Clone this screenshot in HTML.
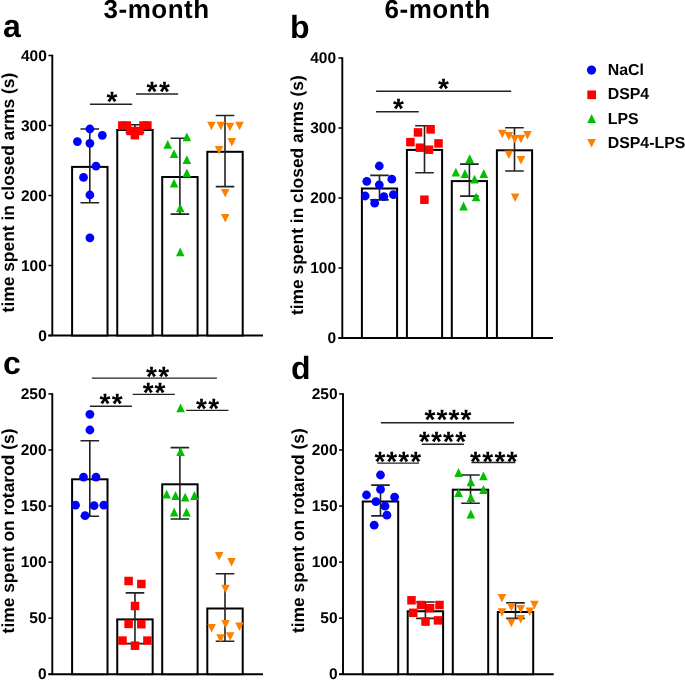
<!DOCTYPE html>
<html><head><meta charset="utf-8"><style>
html,body{margin:0;padding:0;background:#fff;}
body{width:685px;height:680px;overflow:hidden;}
svg{display:block;will-change:transform;}
text{font-family:"Liberation Sans",sans-serif;font-weight:bold;text-rendering:geometricPrecision;}
</style></head><body>
<svg width="685" height="680" viewBox="0 0 685 680">
<rect width="685" height="680" fill="#fff"/>
<text x="156.6" y="18.4" text-anchor="middle" font-size="26" letter-spacing="0.5" font-family="Liberation Sans, sans-serif" font-weight="bold">3-month</text>
<text x="437.6" y="18.4" text-anchor="middle" font-size="26" letter-spacing="0.5" font-family="Liberation Sans, sans-serif" font-weight="bold">6-month</text>
<text x="3" y="37" font-size="32" font-family="Liberation Sans, sans-serif" font-weight="bold">a</text>
<text x="290" y="37.8" font-size="32" font-family="Liberation Sans, sans-serif" font-weight="bold">b</text>
<text x="3" y="374" font-size="32" font-family="Liberation Sans, sans-serif" font-weight="bold">c</text>
<text x="291" y="378.8" font-size="32" font-family="Liberation Sans, sans-serif" font-weight="bold">d</text>
<g stroke="#000" fill="none">
<path d="M52.3 54.8 V335.5 M48.4 335.5 H263" stroke-width="1.9"/>
<path d="M48.4 335.5 H52.3" stroke-width="1.5"/>
<path d="M48.4 265.5 H52.3" stroke-width="1.5"/>
<path d="M48.4 195.5 H52.3" stroke-width="1.5"/>
<path d="M48.4 125.5 H52.3" stroke-width="1.5"/>
<path d="M48.4 55.5 H52.3" stroke-width="1.5"/>
</g>
<text x="46.800000000000004" y="340.70" text-anchor="end" font-size="15.5" font-family="Liberation Sans, sans-serif" font-weight="bold">0</text>
<text x="46.800000000000004" y="270.70" text-anchor="end" font-size="15.5" font-family="Liberation Sans, sans-serif" font-weight="bold">100</text>
<text x="46.800000000000004" y="200.70" text-anchor="end" font-size="15.5" font-family="Liberation Sans, sans-serif" font-weight="bold">200</text>
<text x="46.800000000000004" y="130.70" text-anchor="end" font-size="15.5" font-family="Liberation Sans, sans-serif" font-weight="bold">300</text>
<text x="46.800000000000004" y="60.70" text-anchor="end" font-size="15.5" font-family="Liberation Sans, sans-serif" font-weight="bold">400</text>
<text transform="translate(13.6,312.4) rotate(-90)" font-size="17.4" font-family="Liberation Sans, sans-serif" font-weight="bold">time spent in closed arms (s)</text>
<rect x="72.10" y="166.90" width="35.40" height="168.60" fill="#fff" stroke="#000" stroke-width="2"/>
<rect x="117.25" y="130.00" width="35.40" height="205.50" fill="#fff" stroke="#000" stroke-width="2"/>
<rect x="162.20" y="177.00" width="35.40" height="158.50" fill="#fff" stroke="#000" stroke-width="2"/>
<rect x="207.30" y="151.80" width="35.40" height="183.70" fill="#fff" stroke="#000" stroke-width="2"/>
<path d="M89.80 129.00V202.80M80.50 129.00H99.10M80.50 202.80H99.10" stroke="#222" stroke-width="1.6" fill="none"/>
<path d="M134.95 124.70V132.60M125.65 124.70H144.25M125.65 132.60H144.25" stroke="#222" stroke-width="1.6" fill="none"/>
<path d="M179.90 138.20V214.10M170.60 138.20H189.20M170.60 214.10H189.20" stroke="#222" stroke-width="1.6" fill="none"/>
<path d="M225.00 115.50V186.60M215.70 115.50H234.30M215.70 186.60H234.30" stroke="#222" stroke-width="1.6" fill="none"/>
<circle cx="89.90" cy="129.00" r="4.4" fill="#0000ff"/>
<circle cx="102.30" cy="135.30" r="4.4" fill="#0000ff"/>
<circle cx="77.40" cy="141.60" r="4.4" fill="#0000ff"/>
<circle cx="89.90" cy="143.30" r="4.4" fill="#0000ff"/>
<circle cx="96.00" cy="166.10" r="4.4" fill="#0000ff"/>
<circle cx="83.50" cy="177.40" r="4.4" fill="#0000ff"/>
<circle cx="89.90" cy="195.00" r="4.4" fill="#0000ff"/>
<circle cx="89.90" cy="237.80" r="4.4" fill="#0000ff"/>
<rect x="118.05" y="121.25" width="8.5" height="8.5" fill="#ff0000"/>
<rect x="122.55" y="121.25" width="8.5" height="8.5" fill="#ff0000"/>
<rect x="139.25" y="121.25" width="8.5" height="8.5" fill="#ff0000"/>
<rect x="143.15" y="121.25" width="8.5" height="8.5" fill="#ff0000"/>
<rect x="126.35" y="126.75" width="8.5" height="8.5" fill="#ff0000"/>
<rect x="134.85" y="126.75" width="8.5" height="8.5" fill="#ff0000"/>
<rect x="130.65" y="130.95" width="8.5" height="8.5" fill="#ff0000"/>
<path d="M186.85 132.40L191.15 141.20L182.55 141.20Z" fill="#00c000"/>
<path d="M167.75 140.00L172.05 148.80L163.45 148.80Z" fill="#00c000"/>
<path d="M174.05 149.20L178.35 158.00L169.75 158.00Z" fill="#00c000"/>
<path d="M186.85 155.30L191.15 164.10L182.55 164.10Z" fill="#00c000"/>
<path d="M186.85 168.50L191.15 177.30L182.55 177.30Z" fill="#00c000"/>
<path d="M174.05 178.80L178.35 187.60L169.75 187.60Z" fill="#00c000"/>
<path d="M180.25 203.50L184.55 212.30L175.95 212.30Z" fill="#00c000"/>
<path d="M180.25 247.50L184.55 256.30L175.95 256.30Z" fill="#00c000"/>
<path d="M207.15 121.80L215.75 121.80L211.45 130.30Z" fill="#ff8000"/>
<path d="M216.55 121.80L225.15 121.80L220.85 130.30Z" fill="#ff8000"/>
<path d="M225.65 122.80L234.25 122.80L229.95 131.30Z" fill="#ff8000"/>
<path d="M235.25 121.80L243.85 121.80L239.55 130.30Z" fill="#ff8000"/>
<path d="M227.55 138.00L236.15 138.00L231.85 146.50Z" fill="#ff8000"/>
<path d="M214.75 146.10L223.35 146.10L219.05 154.60Z" fill="#ff8000"/>
<path d="M220.95 189.10L229.55 189.10L225.25 197.60Z" fill="#ff8000"/>
<path d="M220.95 214.00L229.55 214.00L225.25 222.50Z" fill="#ff8000"/>
<path d="M90 104.3H132.2" stroke="#222" stroke-width="1.4"/>
<text x="111.90" y="110.50" text-anchor="middle" font-size="28" font-family="Liberation Sans, sans-serif" font-weight="bold">*</text>
<path d="M136 94H178.2" stroke="#222" stroke-width="1.4"/>
<text x="151.85" y="100.70" text-anchor="middle" font-size="28" font-family="Liberation Sans, sans-serif" font-weight="bold">*</text>
<text x="164.35" y="100.70" text-anchor="middle" font-size="28" font-family="Liberation Sans, sans-serif" font-weight="bold">*</text>
<g stroke="#000" fill="none">
<path d="M342.3 57.3 V338 M338.40000000000003 338 H553" stroke-width="1.9"/>
<path d="M338.40000000000003 338.0 H342.3" stroke-width="1.5"/>
<path d="M338.40000000000003 268.0 H342.3" stroke-width="1.5"/>
<path d="M338.40000000000003 198.0 H342.3" stroke-width="1.5"/>
<path d="M338.40000000000003 128.0 H342.3" stroke-width="1.5"/>
<path d="M338.40000000000003 58.0 H342.3" stroke-width="1.5"/>
</g>
<text x="336.09999999999997" y="343.20" text-anchor="end" font-size="15.5" font-family="Liberation Sans, sans-serif" font-weight="bold">0</text>
<text x="336.09999999999997" y="273.20" text-anchor="end" font-size="15.5" font-family="Liberation Sans, sans-serif" font-weight="bold">100</text>
<text x="336.09999999999997" y="203.20" text-anchor="end" font-size="15.5" font-family="Liberation Sans, sans-serif" font-weight="bold">200</text>
<text x="336.09999999999997" y="133.20" text-anchor="end" font-size="15.5" font-family="Liberation Sans, sans-serif" font-weight="bold">300</text>
<text x="336.09999999999997" y="63.20" text-anchor="end" font-size="15.5" font-family="Liberation Sans, sans-serif" font-weight="bold">400</text>
<text transform="translate(303.2,315.0) rotate(-90)" font-size="17.4" font-family="Liberation Sans, sans-serif" font-weight="bold">time spent in closed arms (s)</text>
<rect x="361.90" y="188.50" width="35.20" height="149.50" fill="#fff" stroke="#000" stroke-width="2"/>
<rect x="406.90" y="149.90" width="35.20" height="188.10" fill="#fff" stroke="#000" stroke-width="2"/>
<rect x="451.80" y="181.10" width="35.20" height="156.90" fill="#fff" stroke="#000" stroke-width="2"/>
<rect x="496.90" y="150.30" width="35.20" height="187.70" fill="#fff" stroke="#000" stroke-width="2"/>
<path d="M379.50 175.40V199.90M370.20 175.40H388.80M370.20 199.90H388.80" stroke="#222" stroke-width="1.6" fill="none"/>
<path d="M424.50 125.80V172.70M415.20 125.80H433.80M415.20 172.70H433.80" stroke="#222" stroke-width="1.6" fill="none"/>
<path d="M469.40 164.10V196.10M460.10 164.10H478.70M460.10 196.10H478.70" stroke="#222" stroke-width="1.6" fill="none"/>
<path d="M514.50 127.80V171.00M505.20 127.80H523.80M505.20 171.00H523.80" stroke="#222" stroke-width="1.6" fill="none"/>
<circle cx="379.30" cy="166.00" r="4.4" fill="#0000ff"/>
<circle cx="366.80" cy="181.30" r="4.4" fill="#0000ff"/>
<circle cx="391.80" cy="179.20" r="4.4" fill="#0000ff"/>
<circle cx="379.30" cy="184.80" r="4.4" fill="#0000ff"/>
<circle cx="365.20" cy="196.00" r="4.4" fill="#0000ff"/>
<circle cx="383.90" cy="196.60" r="4.4" fill="#0000ff"/>
<circle cx="393.40" cy="194.70" r="4.4" fill="#0000ff"/>
<circle cx="374.70" cy="203.20" r="4.4" fill="#0000ff"/>
<rect x="426.35" y="125.15" width="8.5" height="8.5" fill="#ff0000"/>
<rect x="413.75" y="128.15" width="8.5" height="8.5" fill="#ff0000"/>
<rect x="406.15" y="137.85" width="8.5" height="8.5" fill="#ff0000"/>
<rect x="434.25" y="139.15" width="8.5" height="8.5" fill="#ff0000"/>
<rect x="415.65" y="143.45" width="8.5" height="8.5" fill="#ff0000"/>
<rect x="424.75" y="145.45" width="8.5" height="8.5" fill="#ff0000"/>
<rect x="420.15" y="195.45" width="8.5" height="8.5" fill="#ff0000"/>
<path d="M469.75 154.30L474.05 163.10L465.45 163.10Z" fill="#00c000"/>
<path d="M455.85 167.70L460.15 176.50L451.55 176.50Z" fill="#00c000"/>
<path d="M464.95 169.10L469.25 177.90L460.65 177.90Z" fill="#00c000"/>
<path d="M483.75 169.10L488.05 177.90L479.45 177.90Z" fill="#00c000"/>
<path d="M474.55 174.80L478.85 183.60L470.25 183.60Z" fill="#00c000"/>
<path d="M476.15 192.50L480.45 201.30L471.85 201.30Z" fill="#00c000"/>
<path d="M463.55 201.60L467.85 210.40L459.25 210.40Z" fill="#00c000"/>
<path d="M497.95 129.80L506.55 129.80L502.25 138.30Z" fill="#ff8000"/>
<path d="M504.55 131.90L513.15 131.90L508.85 140.40Z" fill="#ff8000"/>
<path d="M510.45 135.00L519.05 135.00L514.75 143.50Z" fill="#ff8000"/>
<path d="M516.65 134.80L525.25 134.80L520.95 143.30Z" fill="#ff8000"/>
<path d="M523.15 131.00L531.75 131.00L527.45 139.50Z" fill="#ff8000"/>
<path d="M504.55 150.60L513.15 150.60L508.85 159.10Z" fill="#ff8000"/>
<path d="M516.65 156.00L525.25 156.00L520.95 164.50Z" fill="#ff8000"/>
<path d="M510.85 193.50L519.45 193.50L515.15 202.00Z" fill="#ff8000"/>
<path d="M376.1 91.3H511.2" stroke="#222" stroke-width="1.4"/>
<text x="443.50" y="97.50" text-anchor="middle" font-size="28" font-family="Liberation Sans, sans-serif" font-weight="bold">*</text>
<path d="M376.1 111.8H418.8" stroke="#222" stroke-width="1.4"/>
<text x="398.45" y="117.60" text-anchor="middle" font-size="28" font-family="Liberation Sans, sans-serif" font-weight="bold">*</text>
<g stroke="#000" fill="none">
<path d="M52.3 393.25000000000006 V674.2 M48.4 674.2 H263" stroke-width="1.9"/>
<path d="M48.4 674.2 H52.3" stroke-width="1.5"/>
<path d="M48.4 618.1500000000001 H52.3" stroke-width="1.5"/>
<path d="M48.4 562.1 H52.3" stroke-width="1.5"/>
<path d="M48.4 506.05000000000007 H52.3" stroke-width="1.5"/>
<path d="M48.4 450.00000000000006 H52.3" stroke-width="1.5"/>
<path d="M48.4 393.95000000000005 H52.3" stroke-width="1.5"/>
</g>
<text x="46.6" y="679.40" text-anchor="end" font-size="15.5" font-family="Liberation Sans, sans-serif" font-weight="bold">0</text>
<text x="46.6" y="623.35" text-anchor="end" font-size="15.5" font-family="Liberation Sans, sans-serif" font-weight="bold">50</text>
<text x="46.6" y="567.30" text-anchor="end" font-size="15.5" font-family="Liberation Sans, sans-serif" font-weight="bold">100</text>
<text x="46.6" y="511.25" text-anchor="end" font-size="15.5" font-family="Liberation Sans, sans-serif" font-weight="bold">150</text>
<text x="46.6" y="455.20" text-anchor="end" font-size="15.5" font-family="Liberation Sans, sans-serif" font-weight="bold">200</text>
<text x="46.6" y="399.15" text-anchor="end" font-size="15.5" font-family="Liberation Sans, sans-serif" font-weight="bold">250</text>
<text transform="translate(13.6,633.4) rotate(-90)" font-size="17.4" font-family="Liberation Sans, sans-serif" font-weight="bold">time spent on rotarod (s)</text>
<rect x="72.10" y="479.30" width="35.40" height="194.90" fill="#fff" stroke="#000" stroke-width="2"/>
<rect x="117.25" y="619.40" width="35.40" height="54.80" fill="#fff" stroke="#000" stroke-width="2"/>
<rect x="162.20" y="484.30" width="35.40" height="189.90" fill="#fff" stroke="#000" stroke-width="2"/>
<rect x="207.30" y="608.50" width="35.40" height="65.70" fill="#fff" stroke="#000" stroke-width="2"/>
<path d="M89.80 440.70V516.30M80.50 440.70H99.10M80.50 516.30H99.10" stroke="#222" stroke-width="1.6" fill="none"/>
<path d="M134.95 592.90V643.60M125.65 592.90H144.25M125.65 643.60H144.25" stroke="#222" stroke-width="1.6" fill="none"/>
<path d="M179.90 447.60V519.00M170.60 447.60H189.20M170.60 519.00H189.20" stroke="#222" stroke-width="1.6" fill="none"/>
<path d="M225.00 573.80V641.20M215.70 573.80H234.30M215.70 641.20H234.30" stroke="#222" stroke-width="1.6" fill="none"/>
<circle cx="89.90" cy="414.30" r="4.4" fill="#0000ff"/>
<circle cx="89.90" cy="430.00" r="4.4" fill="#0000ff"/>
<circle cx="83.50" cy="477.10" r="4.4" fill="#0000ff"/>
<circle cx="96.00" cy="477.10" r="4.4" fill="#0000ff"/>
<circle cx="75.50" cy="505.20" r="4.4" fill="#0000ff"/>
<circle cx="94.10" cy="505.70" r="4.4" fill="#0000ff"/>
<circle cx="103.80" cy="505.20" r="4.4" fill="#0000ff"/>
<circle cx="85.10" cy="515.70" r="4.4" fill="#0000ff"/>
<rect x="124.35" y="576.75" width="8.5" height="8.5" fill="#ff0000"/>
<rect x="137.15" y="579.75" width="8.5" height="8.5" fill="#ff0000"/>
<rect x="130.75" y="601.75" width="8.5" height="8.5" fill="#ff0000"/>
<rect x="124.35" y="619.65" width="8.5" height="8.5" fill="#ff0000"/>
<rect x="137.05" y="619.95" width="8.5" height="8.5" fill="#ff0000"/>
<rect x="118.25" y="636.35" width="8.5" height="8.5" fill="#ff0000"/>
<rect x="143.15" y="636.35" width="8.5" height="8.5" fill="#ff0000"/>
<rect x="130.75" y="641.45" width="8.5" height="8.5" fill="#ff0000"/>
<path d="M180.55 403.40L184.85 412.20L176.25 412.20Z" fill="#00c000"/>
<path d="M180.55 447.10L184.85 455.90L176.25 455.90Z" fill="#00c000"/>
<path d="M166.65 489.70L170.95 498.50L162.35 498.50Z" fill="#00c000"/>
<path d="M175.55 491.10L179.85 499.90L171.25 499.90Z" fill="#00c000"/>
<path d="M185.15 492.70L189.45 501.50L180.85 501.50Z" fill="#00c000"/>
<path d="M194.45 491.10L198.75 499.90L190.15 499.90Z" fill="#00c000"/>
<path d="M174.15 507.60L178.45 516.40L169.85 516.40Z" fill="#00c000"/>
<path d="M186.55 507.60L190.85 516.40L182.25 516.40Z" fill="#00c000"/>
<path d="M214.85 552.00L223.45 552.00L219.15 560.50Z" fill="#ff8000"/>
<path d="M227.25 557.90L235.85 557.90L231.55 566.40Z" fill="#ff8000"/>
<path d="M221.25 584.70L229.85 584.70L225.55 593.20Z" fill="#ff8000"/>
<path d="M207.35 624.00L215.95 624.00L211.65 632.50Z" fill="#ff8000"/>
<path d="M221.25 620.00L229.85 620.00L225.55 628.50Z" fill="#ff8000"/>
<path d="M235.15 622.40L243.75 622.40L239.45 630.90Z" fill="#ff8000"/>
<path d="M216.25 634.30L224.85 634.30L220.55 642.80Z" fill="#ff8000"/>
<path d="M225.85 632.30L234.45 632.30L230.15 640.80Z" fill="#ff8000"/>
<path d="M91.8 378.1H216.9" stroke="#222" stroke-width="1.4"/>
<text x="151.45" y="385.50" text-anchor="middle" font-size="28" font-family="Liberation Sans, sans-serif" font-weight="bold">*</text>
<text x="163.75" y="385.50" text-anchor="middle" font-size="28" font-family="Liberation Sans, sans-serif" font-weight="bold">*</text>
<path d="M132.6 394.4H174.8" stroke="#222" stroke-width="1.4"/>
<text x="148.15" y="401.80" text-anchor="middle" font-size="28" font-family="Liberation Sans, sans-serif" font-weight="bold">*</text>
<text x="159.85" y="401.80" text-anchor="middle" font-size="28" font-family="Liberation Sans, sans-serif" font-weight="bold">*</text>
<path d="M89.9 406.3H131.9" stroke="#222" stroke-width="1.4"/>
<text x="105.05" y="413.20" text-anchor="middle" font-size="28" font-family="Liberation Sans, sans-serif" font-weight="bold">*</text>
<text x="117.15" y="413.20" text-anchor="middle" font-size="28" font-family="Liberation Sans, sans-serif" font-weight="bold">*</text>
<path d="M186.1 410.4H228.4" stroke="#222" stroke-width="1.4"/>
<text x="201.45" y="418.30" text-anchor="middle" font-size="28" font-family="Liberation Sans, sans-serif" font-weight="bold">*</text>
<text x="213.65" y="418.30" text-anchor="middle" font-size="28" font-family="Liberation Sans, sans-serif" font-weight="bold">*</text>
<g stroke="#000" fill="none">
<path d="M343 393.25000000000006 V674.2 M339.1 674.2 H553.7" stroke-width="1.9"/>
<path d="M339.1 674.2 H343" stroke-width="1.5"/>
<path d="M339.1 618.1500000000001 H343" stroke-width="1.5"/>
<path d="M339.1 562.1 H343" stroke-width="1.5"/>
<path d="M339.1 506.05000000000007 H343" stroke-width="1.5"/>
<path d="M339.1 450.00000000000006 H343" stroke-width="1.5"/>
<path d="M339.1 393.95000000000005 H343" stroke-width="1.5"/>
</g>
<text x="337.59999999999997" y="679.40" text-anchor="end" font-size="15.5" font-family="Liberation Sans, sans-serif" font-weight="bold">0</text>
<text x="337.59999999999997" y="623.35" text-anchor="end" font-size="15.5" font-family="Liberation Sans, sans-serif" font-weight="bold">50</text>
<text x="337.59999999999997" y="567.30" text-anchor="end" font-size="15.5" font-family="Liberation Sans, sans-serif" font-weight="bold">100</text>
<text x="337.59999999999997" y="511.25" text-anchor="end" font-size="15.5" font-family="Liberation Sans, sans-serif" font-weight="bold">150</text>
<text x="337.59999999999997" y="455.20" text-anchor="end" font-size="15.5" font-family="Liberation Sans, sans-serif" font-weight="bold">200</text>
<text x="337.59999999999997" y="399.15" text-anchor="end" font-size="15.5" font-family="Liberation Sans, sans-serif" font-weight="bold">250</text>
<text transform="translate(304.1,633.0) rotate(-90)" font-size="17.4" font-family="Liberation Sans, sans-serif" font-weight="bold">time spent on rotarod (s)</text>
<rect x="362.80" y="501.50" width="35.40" height="172.70" fill="#fff" stroke="#000" stroke-width="2"/>
<rect x="407.70" y="611.25" width="35.40" height="62.95" fill="#fff" stroke="#000" stroke-width="2"/>
<rect x="452.80" y="489.70" width="35.40" height="184.50" fill="#fff" stroke="#000" stroke-width="2"/>
<rect x="497.80" y="612.00" width="35.40" height="62.20" fill="#fff" stroke="#000" stroke-width="2"/>
<path d="M380.50 485.10V515.90M371.20 485.10H389.80M371.20 515.90H389.80" stroke="#222" stroke-width="1.6" fill="none"/>
<path d="M425.40 602.00V618.40M416.10 602.00H434.70M416.10 618.40H434.70" stroke="#222" stroke-width="1.6" fill="none"/>
<path d="M470.50 475.00V503.30M461.20 475.00H479.80M461.20 503.30H479.80" stroke="#222" stroke-width="1.6" fill="none"/>
<path d="M515.50 602.90V618.40M506.20 602.90H524.80M506.20 618.40H524.80" stroke="#222" stroke-width="1.6" fill="none"/>
<circle cx="380.50" cy="475.00" r="4.4" fill="#0000ff"/>
<circle cx="380.50" cy="489.40" r="4.4" fill="#0000ff"/>
<circle cx="366.50" cy="495.00" r="4.4" fill="#0000ff"/>
<circle cx="394.60" cy="497.10" r="4.4" fill="#0000ff"/>
<circle cx="375.90" cy="501.70" r="4.4" fill="#0000ff"/>
<circle cx="385.00" cy="506.20" r="4.4" fill="#0000ff"/>
<circle cx="386.90" cy="515.20" r="4.4" fill="#0000ff"/>
<circle cx="374.20" cy="525.20" r="4.4" fill="#0000ff"/>
<rect x="407.25" y="596.05" width="8.5" height="8.5" fill="#ff0000"/>
<rect x="416.75" y="600.75" width="8.5" height="8.5" fill="#ff0000"/>
<rect x="435.25" y="600.75" width="8.5" height="8.5" fill="#ff0000"/>
<rect x="425.85" y="603.95" width="8.5" height="8.5" fill="#ff0000"/>
<rect x="408.95" y="608.55" width="8.5" height="8.5" fill="#ff0000"/>
<rect x="421.25" y="617.35" width="8.5" height="8.5" fill="#ff0000"/>
<rect x="433.75" y="616.15" width="8.5" height="8.5" fill="#ff0000"/>
<path d="M458.55 468.10L462.85 476.90L454.25 476.90Z" fill="#00c000"/>
<path d="M483.45 471.50L487.75 480.30L479.15 480.30Z" fill="#00c000"/>
<path d="M470.85 477.40L475.15 486.20L466.55 486.20Z" fill="#00c000"/>
<path d="M483.45 485.10L487.75 493.90L479.15 493.90Z" fill="#00c000"/>
<path d="M458.55 488.20L462.85 497.00L454.25 497.00Z" fill="#00c000"/>
<path d="M470.85 493.10L475.15 501.90L466.55 501.90Z" fill="#00c000"/>
<path d="M470.85 509.60L475.15 518.40L466.55 518.40Z" fill="#00c000"/>
<path d="M497.65 594.00L506.25 594.00L501.95 602.50Z" fill="#ff8000"/>
<path d="M507.05 602.90L515.65 602.90L511.35 611.40Z" fill="#ff8000"/>
<path d="M516.45 605.00L525.05 605.00L520.75 613.50Z" fill="#ff8000"/>
<path d="M530.15 600.70L538.75 600.70L534.45 609.20Z" fill="#ff8000"/>
<path d="M497.65 608.30L506.25 608.30L501.95 616.80Z" fill="#ff8000"/>
<path d="M525.55 607.60L534.15 607.60L529.85 616.10Z" fill="#ff8000"/>
<path d="M516.45 615.10L525.05 615.10L520.75 623.60Z" fill="#ff8000"/>
<path d="M507.05 618.80L515.65 618.80L511.35 627.30Z" fill="#ff8000"/>
<path d="M380.9 422.8H514" stroke="#222" stroke-width="1.4"/>
<text x="429.95" y="429.30" text-anchor="middle" font-size="28" font-family="Liberation Sans, sans-serif" font-weight="bold">*</text>
<text x="441.92" y="429.30" text-anchor="middle" font-size="28" font-family="Liberation Sans, sans-serif" font-weight="bold">*</text>
<text x="453.88" y="429.30" text-anchor="middle" font-size="28" font-family="Liberation Sans, sans-serif" font-weight="bold">*</text>
<text x="465.85" y="429.30" text-anchor="middle" font-size="28" font-family="Liberation Sans, sans-serif" font-weight="bold">*</text>
<path d="M421.7 444.2H463.9" stroke="#222" stroke-width="1.4"/>
<text x="424.35" y="451.20" text-anchor="middle" font-size="28" font-family="Liberation Sans, sans-serif" font-weight="bold">*</text>
<text x="436.45" y="451.20" text-anchor="middle" font-size="28" font-family="Liberation Sans, sans-serif" font-weight="bold">*</text>
<text x="448.55" y="451.20" text-anchor="middle" font-size="28" font-family="Liberation Sans, sans-serif" font-weight="bold">*</text>
<text x="460.65" y="451.20" text-anchor="middle" font-size="28" font-family="Liberation Sans, sans-serif" font-weight="bold">*</text>
<path d="M377.2 463.1H419" stroke="#222" stroke-width="1.4"/>
<text x="379.85" y="470.50" text-anchor="middle" font-size="28" font-family="Liberation Sans, sans-serif" font-weight="bold">*</text>
<text x="391.82" y="470.50" text-anchor="middle" font-size="28" font-family="Liberation Sans, sans-serif" font-weight="bold">*</text>
<text x="403.78" y="470.50" text-anchor="middle" font-size="28" font-family="Liberation Sans, sans-serif" font-weight="bold">*</text>
<text x="415.75" y="470.50" text-anchor="middle" font-size="28" font-family="Liberation Sans, sans-serif" font-weight="bold">*</text>
<path d="M471.4 462.5H515.3" stroke="#222" stroke-width="1.4"/>
<text x="475.45" y="470.50" text-anchor="middle" font-size="28" font-family="Liberation Sans, sans-serif" font-weight="bold">*</text>
<text x="487.65" y="470.50" text-anchor="middle" font-size="28" font-family="Liberation Sans, sans-serif" font-weight="bold">*</text>
<text x="499.85" y="470.50" text-anchor="middle" font-size="28" font-family="Liberation Sans, sans-serif" font-weight="bold">*</text>
<text x="512.05" y="470.50" text-anchor="middle" font-size="28" font-family="Liberation Sans, sans-serif" font-weight="bold">*</text>
<circle cx="591.50" cy="70.10" r="4.6" fill="#0000ff"/>
<rect x="587.35" y="90.45" width="8.7" height="8.7" fill="#ff0000"/>
<path d="M591.65 114.10L596.00 123.00L587.30 123.00Z" fill="#00c000"/>
<path d="M587.20 139.00L595.90 139.00L591.55 147.60Z" fill="#ff8000"/>
<text x="607.7" y="75.2" font-size="15.9" font-family="Liberation Sans, sans-serif" font-weight="bold">NaCl</text>
<text x="607.7" y="99.4" font-size="15.9" font-family="Liberation Sans, sans-serif" font-weight="bold">DSP4</text>
<text x="607.7" y="123.60000000000001" font-size="15.9" font-family="Liberation Sans, sans-serif" font-weight="bold">LPS</text>
<text x="607.7" y="147.7" font-size="15.9" font-family="Liberation Sans, sans-serif" font-weight="bold">DSP4-LPS</text>
</svg>
</body></html>
